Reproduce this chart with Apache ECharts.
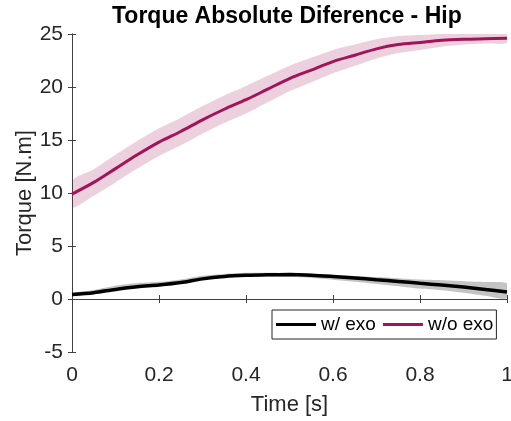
<!DOCTYPE html>
<html>
<head>
<meta charset="utf-8">
<script src="https://cdn.jsdelivr.net/npm/echarts@6/dist/echarts.min.js"></script>
<style>
  html, body { margin: 0; padding: 0; background: #fff; }
  #chart { width: 511px; height: 421px; }
</style>
</head>
<body>
<div id="chart"></div>
<script>
// ---- data ----
const time = [0, 0.05, 0.1, 0.15, 0.2, 0.25, 0.3, 0.35, 0.4, 0.45, 0.5,
              0.55, 0.6, 0.65, 0.7, 0.75, 0.8, 0.85, 0.9, 0.95, 1.0];

// w/o exo (magenta) mean and band half-width
const woExoMean = [9.9, 11.0, 12.3, 13.6, 14.8, 15.8, 16.9, 17.9, 18.8, 19.8, 20.8,
                   21.6, 22.4, 23.0, 23.6, 24.0, 24.2, 24.4, 24.5, 24.55, 24.6];
const woExoSpread = [1.25, 1.25, 1.3, 1.3, 1.3, 1.3, 1.3, 1.3, 1.3, 1.25, 1.2,
                     1.15, 1.1, 1.0, 0.9, 0.8, 0.7, 0.6, 0.5, 0.45, 0.45];

// w/ exo (black) mean and band (upper / lower offsets)
const wExoMean = [0.42, 0.6, 0.9, 1.15, 1.32, 1.55, 1.9, 2.12, 2.23, 2.28, 2.3,
                  2.24, 2.12, 1.98, 1.82, 1.66, 1.48, 1.32, 1.13, 0.9, 0.66];
const wExoUp = [0.15, 0.25, 0.35, 0.35, 0.3, 0.3, 0.3, 0.25, 0.25, 0.2, 0.15,
                0.15, 0.15, 0.2, 0.25, 0.3, 0.35, 0.45, 0.55, 0.7, 0.8];
const wExoDown = [0.1, 0.1, 0.1, 0.1, 0.1, 0.1, 0.1, 0.1, 0.1, 0.15, 0.2,
                  0.25, 0.3, 0.35, 0.4, 0.45, 0.5, 0.5, 0.55, 0.6, 0.6];

const seriesNames = ['w/ exo', 'w/o exo'];
const titleText = 'Torque Absolute Diference - Hip';
const xName = 'Time [s]';
const yName = 'Torque [N.m]';

// ---- build series data ----
const pair = (arr) => time.map((t, i) => [t, arr[i]]);
// band rows: [t, low, high]
const woBandRows = time.map((t, i) => [t, woExoMean[i] - woExoSpread[i], woExoMean[i] + woExoSpread[i]]);
const wBandRows = time.map((t, i) => [t, wExoMean[i] - wExoDown[i], wExoMean[i] + wExoUp[i]]);

const axisColor = '#404040';
const textColor = '#262626';
const font = 'Liberation Sans, Arial, sans-serif';

function bandSeries(rows, color) {
  return {
    type: 'custom', silent: true, z: 1,
    data: rows,
    encode: { x: 0, y: [1, 2] },
    renderItem: function (params, api) {
      if (params.dataIndex !== 0) return null;
      const upper = [], lower = [];
      for (let i = 0; i < rows.length; i++) {
        upper.push(api.coord([rows[i][0], rows[i][2]]));
        lower.push(api.coord([rows[i][0], rows[i][1]]));
      }
      const pts = upper.concat(lower.reverse());
      return {
        type: 'polygon',
        shape: { points: pts, smooth: 0.25 },
        style: { fill: color, stroke: null },
        clipPath: {
          type: 'rect',
          shape: { x: params.coordSys.x, y: params.coordSys.y,
                   width: params.coordSys.width, height: params.coordSys.height }
        }
      };
    }
  };
}

const chart = echarts.init(document.getElementById('chart'), null, { renderer: 'canvas' });
chart.setOption({
  animation: false,
  backgroundColor: '#fff',
  textStyle: { fontFamily: font },
  title: {
    text: titleText, left: 112, top: 5, padding: 0,
    textStyle: { fontSize: 23, fontWeight: 'bold', color: '#000', fontFamily: font }
  },
  grid: { left: 72, right: 4, top: 34, bottom: 69, containLabel: false, outerBoundsMode: 'none' },
  legend: {
    data: seriesNames,
    left: 272, top: 310,
    icon: 'rect', itemWidth: 40, itemHeight: 3, itemGap: 7,
    padding: [5, 3, 5, 4],
    borderColor: '#262626', borderWidth: 1, backgroundColor: '#fff',
    textStyle: { fontSize: 19, color: '#000', fontFamily: font }
  },
  xAxis: [{
    type: 'value', min: 0, max: 1, interval: 0.2, position: 'bottom',
    name: xName, nameLocation: 'middle', nameGap: 42, nameMoveOverlap: false,
    nameTextStyle: { fontSize: 22, color: textColor, fontFamily: font },
    axisLine: { lineStyle: { color: axisColor, width: 1 } },
    axisTick: { inside: true, length: 4, lineStyle: { color: axisColor } },
    axisLabel: { fontSize: 21, color: textColor, margin: 13, fontFamily: font },
    splitLine: { show: false }
  }, {
    type: 'value', min: 0, max: 1, interval: 0.2, position: 'top',
    axisLine: { show: true, lineStyle: { color: axisColor, width: 1 } },
    axisTick: { inside: true, length: 4, lineStyle: { color: axisColor } },
    axisLabel: { show: false }, splitLine: { show: false }
  }],
  yAxis: [{
    type: 'value', min: -5, max: 25, interval: 5, position: 'left',
    name: yName, nameLocation: 'middle', nameGap: 36, nameMoveOverlap: false,
    nameTextStyle: { fontSize: 22, color: textColor, fontFamily: font },
    axisLine: { show: true, lineStyle: { color: axisColor, width: 1 } },
    axisTick: { show: true, inside: true, length: 4, lineStyle: { color: axisColor } },
    axisLabel: { fontSize: 21, color: textColor, margin: 9, fontFamily: font },
    splitLine: { show: false }
  }, {
    type: 'value', min: -5, max: 25, interval: 5, position: 'right',
    axisLine: { show: true, lineStyle: { color: axisColor, width: 1 } },
    axisTick: { show: true, inside: true, length: 4, lineStyle: { color: axisColor } },
    axisLabel: { show: false }, splitLine: { show: false }
  }],
  series: [
    bandSeries(woBandRows, 'rgba(162,20,90,0.2)'),
    bandSeries(wBandRows, '#c4c4c4'),
    {
      name: seriesNames[0], type: 'line', symbol: 'none', smooth: 0.3,
      data: pair(wExoMean), z: 5,
      lineStyle: { color: '#000', width: 3.5 }, itemStyle: { color: '#000' }
    },
    {
      name: seriesNames[1], type: 'line', symbol: 'none', smooth: 0.3,
      data: pair(woExoMean), z: 5,
      lineStyle: { color: '#a2145a', width: 3 }, itemStyle: { color: '#a2145a' }
    }
  ]
});
</script>
</body>
</html>
